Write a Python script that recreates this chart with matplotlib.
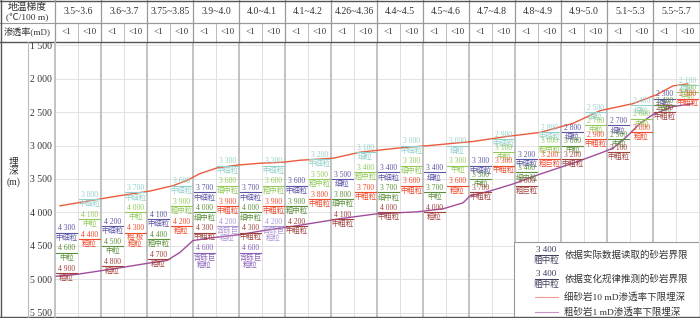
import matplotlib
matplotlib.use('Agg')
import matplotlib.pyplot as plt
from matplotlib.lines import Line2D
from matplotlib.patches import Rectangle

plt.rcParams['font.family'] = ['Liberation Serif', 'Noto Sans CJK SC']

# geothermal gradient groups, each split in <1 mD and <10 mD columns
gradients = ['3.5~3.6', '3.6~3.7', '3.75~3.85', '3.9~4.0', '4.0~4.1', '4.1~4.2', '4.26~4.36',
             '4.4~4.5', '4.5~4.6', '4.7~4.8', '4.8~4.9', '4.9~5.0', '5.1~5.3', '5.5~5.7']
perm_labels = ['<1', '<10']

# boundary depths (m) per sub-column, 28 columns
fine_depth = [4300, 3800, 4200, 3700, 4100, 3600, 3700, 3300, 3700, 3300, 3600, 3200, 3500, 3100,
              3400, 3000, 3400, 3000, 3300, 2900, 3200, 2800, 2800, 2500, 2700, 2400, 2300, 2100]
fine_grain = ['中细粒', '中细粒', '中细粒', '中细粒', '中细粒', '中细粒', '中细粒', '中细粒', '中细粒', '中细粒',
              '中细粒', '中细粒', '细粒', '细粒', '中细粒', '中细粒', '细粒', '细粒', '中细粒', '中细粒',
              '中细粒', '中细粒', '细粒', '细粒', '细粒', '细粒', '细粒', '细粒']
mid_depth = [4600, 4100, 4500, 4000, 4400, 3900, 4000, 3600, 4000, 3600, 3900, 3500, 3800, 3400,
             3700, 3300, 3700, 3300, 3500, 3100, 3400, 3000, 3000, 2700, 2900, 2600, 2400, 2200]
mid_grain = ['中粒', '中粒', '中粒', '中粒', '粗中粒', '粗中粒', '细中粒', '细中粒', '细中粒', '粗中粒',
             '粗中粒', '粗中粒', '细中粒', '粗中粒', '细中粒', '细中粒', '中粒', '中粒', '中粒', '中粒',
             '细中粒', '粗中粒', '中粒', '中粒', '中粒', '中粒', '中粒', '中粒']
coarse_depth = [4900, 4400, 4800, 4300, 4700, 4200, 4300, 3900, 4300, 3900, 4200, 3800, 4100, 3700,
                4000, 3600, 4000, 3600, 3700, 3300, 3600, 3200, 3200, 2900, 3100, 2800, 2500, 2300]
coarse_grain = ['粗粒', '粗粒', '粗粒', '粗-极\n粗粒', '粗粒', '粗粒', '中粗粒', '中粗粒', '中粗粒', '中粗粒',
                '中粗粒', '中粗粒', '中粗粒', '中粗粒', '中粗粒', '中粗粒', '粗粒', '粗粒', '中粗粒', '中粗粒',
                '粗巨粒', '粗巨粒', '中粗粒', '中粗粒', '中粗粒', '粗粒', '中粗粒', '中粗粒']
gravel_cols = [6, 7, 8, 9]
gravel_depth = [4600, 4200, 4600, 4200]
gravel_grain = '含砾巨\n粗粒'

# lower-limit curves (x in sub-column units)
red_x = [0.22, 2.70, 4.13, 5.13, 5.74, 6.30, 7.04, 7.91, 8.91, 9.91, 10.65, 12.09, 13.26, 14.87,
         16.30, 18.17, 19.65, 21.09, 22.52, 23.70, 25.13, 26.17, 26.87, 27.52]
red_depth = [3900, 3755, 3680, 3600, 3520, 3420, 3335, 3293, 3265, 3250, 3220, 3190, 3100, 3040,
             3000, 2940, 2865, 2805, 2670, 2480, 2375, 2240, 2110, 2080]
purple_x = [0.0, 0.96, 2.39, 4.00, 4.87, 5.43, 6.00, 6.87, 8.04, 9.04, 10.52, 12.39, 14.00, 15.74,
            16.87, 17.74, 18.04, 18.91, 19.91, 21.09, 22.52, 23.70, 24.26, 24.87, 25.43, 26.00,
            26.87, 27.74]
purple_depth = [4953, 4923, 4849, 4760, 4716, 4597, 4419, 4375, 4330, 4271, 4197, 4093, 4019, 3990,
                3945, 3856, 3753, 3679, 3575, 3427, 3264, 3116, 3041, 2864, 2671, 2538, 2419, 2375]

colors_lo = {'fine': '#5a55a5', 'mid': '#5b8f3a', 'coarse': '#a0413c', 'gravel': '#8a62b8'}
colors_hi = {'fine': '#93d0ca', 'mid': '#93c95b', 'coarse': '#f04a2c', 'gravel': '#ad96d2'}
red = '#ec5a3c'
purple = '#a24d9c'

W, H = 700, 318
fig = plt.figure(figsize=(7, 3.18), dpi=100)


def fx(px):
    return px / W


def fy(py):
    return 1 - py / H


def fmt(d):
    return f"{d // 1000} {d % 1000:03d}"


# main plot
ax = fig.add_axes([fx(55), fy(317), (699 - 55) / W, (317 - 42) / H])
ax.set_xlim(0, 28)
ax.set_ylim(5560, 1455)
ax.set_xticks([])
ticks = list(range(1500, 5501, 500))
ax.set_yticks(ticks)
ax.set_yticklabels([fmt(t) for t in ticks], fontsize=7, color='#333')
ax.tick_params(axis='y', length=0, pad=2)
for s in ax.spines.values():
    s.set_visible(False)

for t in ticks:
    ax.axhline(t, color='#e3e3e3', lw=0.7, zorder=0)
for j in range(1, 28):
    if j % 2 == 0:
        ax.axvline(j, color='#b8b8b8', lw=1.2, zorder=0)
    else:
        ax.axvline(j, color='#e0e0e0', lw=0.7, zorder=0)

ax.plot(red_x, red_depth, color=red, lw=1.0, zorder=2)
ax.plot(purple_x, purple_depth, color=purple, lw=1.0, zorder=2)


def put_label(j, depth, grain, color):
    xc = j + 0.5
    ax.plot([j + 0.06, j + 0.94], [depth, depth], color=color, lw=0.8, zorder=3)
    ax.annotate(fmt(depth), (xc, depth), xytext=(0, 0.2), textcoords='offset points',
                ha='center', va='bottom', fontsize=5.5, color=color, zorder=3)
    ax.annotate(grain, (xc, depth), xytext=(0, -0.6), textcoords='offset points',
                ha='center', va='top', fontsize=5.3, color=color, linespacing=0.95, zorder=3)


for j in range(28):
    pal = colors_lo if j % 2 == 0 else colors_hi
    put_label(j, fine_depth[j], fine_grain[j], pal['fine'])
    put_label(j, mid_depth[j], mid_grain[j], pal['mid'])
    put_label(j, coarse_depth[j], coarse_grain[j], pal['coarse'])
for j, d in zip(gravel_cols, gravel_depth):
    pal = colors_lo if j % 2 == 0 else colors_hi
    put_label(j, d, gravel_grain, pal['gravel'])

# legend box
ax.add_patch(Rectangle((0.713, -0.02), 0.3, 0.292, transform=ax.transAxes,
                       fc='white', ec='#9a9a9a', lw=0.8, zorder=5))
leg_c = '#3c3c5c'
for yb, txt in [(0.226, '依据实际数据读取的砂岩界限'), (0.138, '依据变化规律推测的砂岩界限')]:
    ax.plot([0.745, 0.781], [yb, yb], transform=ax.transAxes, color=leg_c, lw=0.7, zorder=6)
    ax.text(0.763, yb + 0.004, '3 400', transform=ax.transAxes, ha='center', va='bottom',
            fontsize=6.5, color=leg_c, zorder=6)
    ax.text(0.763, yb - 0.006, '粗中粒', transform=ax.transAxes, ha='center', va='top',
            fontsize=6.2, color=leg_c, zorder=6)
    ax.text(0.791, yb, txt, transform=ax.transAxes, ha='left', va='center',
            fontsize=6.8, color='#333', zorder=6)
for yl, c, txt in [(0.072, red, '细砂岩10 mD渗透率下限埋深'), (0.018, purple, '粗砂岩1 mD渗透率下限埋深')]:
    ax.plot([0.745, 0.781], [yl, yl], transform=ax.transAxes, color=c, lw=0.8, alpha=0.6, zorder=6)
    ax.text(0.791, yl, txt, transform=ax.transAxes, ha='left', va='center',
            fontsize=6.8, color='#333', zorder=6)

# header table
hax = fig.add_axes([fx(55), fy(42), (699 - 55) / W, 42 / H])
hax.set_xlim(0, 28)
hax.set_ylim(42, 0)
hax.axis('off')
hax.axhline(23, color='#999', lw=0.8)
for g, lab in enumerate(gradients):
    hax.text(2 * g + 1, 12, lab, ha='center', va='center', fontsize=7, color='#333')
    for k, p in enumerate(perm_labels):
        hax.text(2 * g + k + 0.5, 32.5, p, ha='center', va='center', fontsize=6.5, color='#333')
    if g > 0:
        hax.plot([2 * g, 2 * g], [0, 42], color='#999', lw=0.9)
    hax.plot([2 * g + 1, 2 * g + 1], [23, 42], color='#bbb', lw=0.7)

# left column texts and frame lines
fig.text(fx(27), fy(7), '地温梯度', ha='center', va='center', fontsize=7, color='#333')
fig.text(fx(27), fy(17), '(℃/100 m)', ha='center', va='center', fontsize=6.8, color='#333')
fig.text(fx(27), fy(32.5), '渗透率(mD)', ha='center', va='center', fontsize=6.6, color='#333')
fig.text(fx(14), fy(172), '埋\n深\n(m)', ha='center', va='center', fontsize=7, color='#333',
         linespacing=1.1)

frame = [((0, 699), (23, 23), '#999', 0.8),
         ((0, 699), (42, 42), '#555', 1.0),
         ((0, 699), (0.5, 0.5), '#555', 1.0),
         ((0, 699), (317, 317), '#555', 1.0),
         ((0.5, 0.5), (0, 318), '#555', 1.0),
         ((699.5, 699.5), (0, 318), '#555', 1.0),
         ((55, 55), (0, 42), '#999', 0.9),
         ((55, 55), (42, 317), '#b8b8b8', 1.2),
         ((28, 28), (42, 317), '#bbb', 0.8)]
for xs, ys, c, lw in frame:
    fig.add_artist(Line2D([fx(xs[0]), fx(xs[1])], [fy(ys[0]), fy(ys[1])],
                          transform=fig.transFigure, color=c, lw=lw))

fig.savefig('out.png', dpi=100)
